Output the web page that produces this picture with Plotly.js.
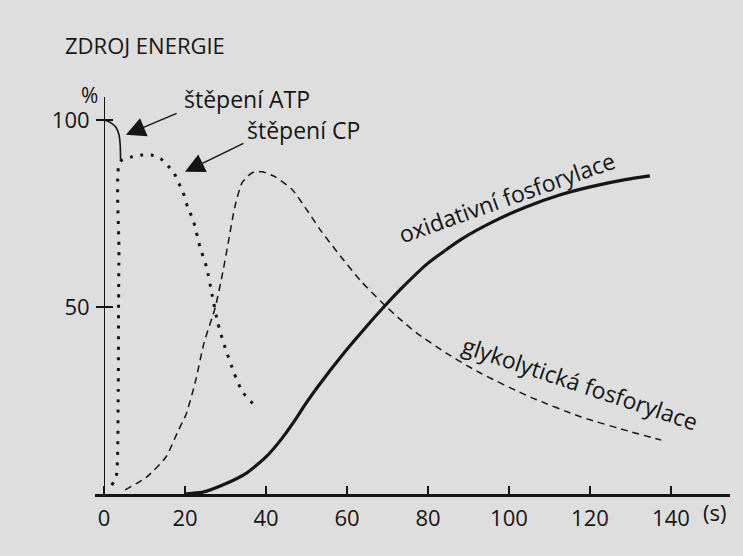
<!DOCTYPE html>
<html>
<head>
<meta charset="utf-8">
<script src="https://cdn.plot.ly/plotly-3.0.1.min.js"></script>
<style>html,body{margin:0;padding:0;background:#dedede;}#chart{width:743px;height:556px;}</style>
</head>
<body>
<div id="chart"></div>
<script>
// ATP splitting (solid thin)
const atpX = [0, 1.7, 2.9, 3.7, 4.0, 4.1];
const atpY = [100, 99.2, 98.1, 96.0, 93.3, 89.3];
// CP splitting (dotted)
const cpX = [1.9, 3.0, 3.5, 3.6, 3.7, 3.9, 6.8, 9.3, 11.7, 14.0, 15.8, 17.3, 18.3, 19.4, 20.7, 22.0, 23.7, 25.3, 26.7, 28.1, 29.7, 32.1, 34.2, 37.5];
const cpY = [2.4, 4.5, 25.1, 51.9, 65.2, 88.8, 90.1, 90.6, 90.6, 89.6, 87.7, 85.8, 83.4, 81.0, 76.5, 73.3, 66.0, 60.7, 53.2, 45.7, 39.8, 32.4, 27.3, 23.3];
// glycolytic phosphorylation (dashed)
const glyX = [5.2, 10.5, 15.3, 18.4, 20.2, 22.5, 24.7, 27.5, 29.3, 30.8, 32.3, 34.1, 36.5, 39.0, 42.2, 46.5, 49.6, 53.4, 58.5, 63.6, 68.7, 73.0, 77.0, 84.6, 92.8, 105.3, 117.8, 130.2, 137.6];
const glyY = [1.1, 4.5, 9.9, 17.1, 21.1, 29.7, 40.4, 50.0, 59.1, 67.9, 76.7, 83.2, 85.8, 86.1, 84.8, 81.3, 76.7, 70.6, 63.4, 56.7, 51.1, 46.8, 43.2, 37.6, 32.4, 25.9, 20.6, 16.6, 14.4];
// oxidative phosphorylation (solid thick)
const oxX = [20, 24.4, 29.3, 35.2, 40.0, 43.9, 47.2, 49.6, 52.6, 59.1, 64.6, 68.7, 73.5, 79.8, 88.1, 96.1, 104.2, 112.5, 120.6, 128.7, 134.8];
const oxY = [0, 0.5, 2.4, 5.6, 9.9, 14.8, 19.8, 23.8, 28.4, 37.5, 44.5, 49.5, 55.0, 61.5, 68.0, 72.8, 76.7, 79.9, 82.2, 84.0, 85.0];

const xTickVals = [0, 20, 40, 60, 80, 100, 120, 140];
const xTickText = ['0', '20', '40', '60', '80', '100', '120', '140'];
const yTickVals = [50, 100];
const yTickText = ['50', '100'];

const ink = '#151515';
const FONT = 'Open Sans, Noto Sans, sans-serif';
const xr = [-2.22, 154.57];
const yr = [0, 106.1];
const ypos = (0 - xr[0]) / (xr[1] - xr[0]);

const traces = [
  {x: atpX, y: atpY, mode: 'lines', line: {color: ink, width: 1.6, shape: 'spline', smoothing: 0.6}, hoverinfo: 'skip'},
  {x: cpX, y: cpY, mode: 'lines', line: {color: ink, width: 3, dash: '3px,7.5px', shape: 'spline', smoothing: 0.6}, hoverinfo: 'skip'},
  {x: glyX, y: glyY, mode: 'lines', line: {color: ink, width: 1.5, dash: '7px,5px', shape: 'spline', smoothing: 0.6}, hoverinfo: 'skip'},
  {x: oxX, y: oxY, mode: 'lines', yaxis: 'y2', line: {color: ink, width: 3.2, shape: 'spline', smoothing: 0.6}, hoverinfo: 'skip'}
];

const layout = {
  width: 743, height: 556,
  margin: {l: 95, r: 13, t: 97, b: 62},
  paper_bgcolor: '#dedede', plot_bgcolor: '#dedede',
  showlegend: false,
  font: {family: FONT, color: ink, size: 22},
  xaxis: {
    range: xr, showgrid: false, zeroline: false,
    showline: true, linecolor: ink, linewidth: 2.5,
    ticks: 'inside', ticklen: 8, tickwidth: 1.5, tickcolor: ink,
    tickvals: xTickVals, ticktext: xTickText, ticklabelstandoff: 3,
    tickfont: {family: FONT, size: 22, color: ink}
  },
  yaxis: {
    range: yr, showgrid: false, zeroline: false,
    anchor: 'free', position: ypos,
    showline: true, linecolor: ink, linewidth: 1.5,
    ticks: 'outside', ticklen: 8, tickwidth: 1.5, tickcolor: ink,
    tickvals: yTickVals, ticktext: yTickText, ticklabelstandoff: 2,
    tickfont: {family: FONT, size: 22, color: ink}
  },
  yaxis2: {
    range: yr, overlaying: 'y', anchor: 'free', position: ypos,
    showgrid: false, zeroline: false, showline: false,
    ticks: 'inside', ticklen: 8, tickwidth: 1.5, tickcolor: ink,
    tickvals: yTickVals, showticklabels: false
  },
  annotations: [
    {x: -0.0504, y: 1.131, xref: 'paper', yref: 'paper', text: 'ZDROJ ENERGIE', showarrow: false, xanchor: 'left', yanchor: 'middle', font: {size: 22}},
    {x: -0.0079, y: 1.005, xref: 'paper', yref: 'paper', text: '%', showarrow: false, xanchor: 'center', yanchor: 'middle', font: {size: 21}},
    {x: 19.3, y: 105.6, xref: 'x', yref: 'y', text: 'štěpení ATP', showarrow: false, xanchor: 'left', yanchor: 'middle', font: {size: 23}},
    {x: 34.8, y: 97.3, xref: 'x', yref: 'y', text: 'štěpení CP', showarrow: false, xanchor: 'left', yanchor: 'middle', font: {size: 23}},
    {x: 99.5, y: 79.4, xref: 'x', yref: 'y', text: 'oxidativní fosforylace', showarrow: false, textangle: -19.5, font: {size: 23}},
    {x: 117.5, y: 29.7, xref: 'x', yref: 'y', text: 'glykolytická fosforylace', showarrow: false, textangle: 18.5, font: {size: 23}},
    {x: 0.975, y: -0.045, xref: 'paper', yref: 'paper', text: '(s)', showarrow: false, xanchor: 'center', yanchor: 'middle', font: {size: 22}},
    {x: 5.4, y: 96.0, xref: 'x', yref: 'y', ax: 18.3, ay: 101.9, axref: 'x', ayref: 'y', text: '', showarrow: true, arrowhead: 2, arrowsize: 2.6, arrowwidth: 1.5, arrowcolor: ink},
    {x: 20.0, y: 86.1, xref: 'x', yref: 'y', ax: 34.8, ay: 93.9, axref: 'x', ayref: 'y', text: '', showarrow: true, arrowhead: 2, arrowsize: 2.6, arrowwidth: 1.5, arrowcolor: ink}
  ]
};

Plotly.newPlot('chart', traces, layout, {displayModeBar: false, staticPlot: true});
</script>
</body>
</html>
